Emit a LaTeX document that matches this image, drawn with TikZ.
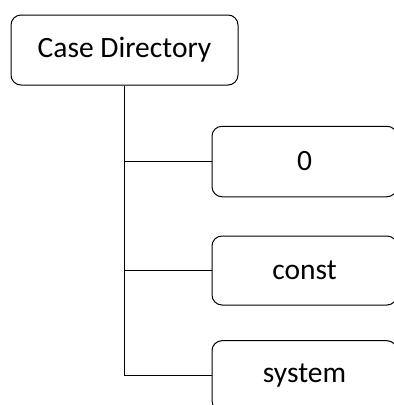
\documentclass[tikz,border=0pt]{standalone}
\usepackage{fontspec}
\setmainfont{Carlito}
\begin{document}
\begin{tikzpicture}[x=1pt,y=-1pt,
  box/.style={draw,line width=1pt,rounded corners=10pt,inner sep=0pt,
    font=\fontsize{29.5}{34}\selectfont},
  conn/.style={line width=1pt}]
\useasboundingbox (0,0) rectangle (394,405);
\clip (0,0) rectangle (394,405);
\node[box,minimum width=227pt,minimum height=70pt] (root) at (124.5,50) {Case Directory};
\node[box,minimum width=185pt,minimum height=70.5pt] (zero) at (304.5,161.5) {0};
\node[box,minimum width=185pt,minimum height=69pt] (const) at (304.5,270.5) {const};
\node[box,minimum width=185pt,minimum height=70pt] (sys) at (304.5,375.7) {system};
\coordinate (bend) at (root.south |- sys.west);
\draw[conn] (root.south) -- (bend) -- (sys.west);
\draw[conn] (root.south |- zero.west) -- (zero.west);
\draw[conn] (root.south |- const.west) -- (const.west);
\end{tikzpicture}
\end{document}
